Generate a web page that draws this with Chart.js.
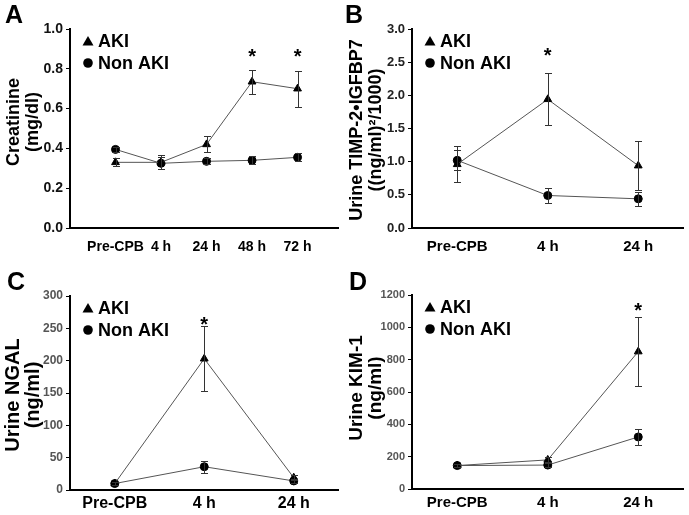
<!DOCTYPE html>
<html>
<head>
<meta charset="utf-8">
<script src="https://cdn.jsdelivr.net/npm/chart.js@4.4.0/dist/chart.umd.min.js"></script>
<style>
  body { margin: 0; background: #fff; }
  canvas { position: absolute; }
</style>
</head>
<body>
<canvas id="panelA" width="344" height="257" style="left:0;top:0"></canvas>
<canvas id="panelB" width="345" height="257" style="left:344px;top:0"></canvas>
<canvas id="panelC" width="344" height="258" style="left:0;top:257px"></canvas>
<canvas id="panelD" width="345" height="258" style="left:344px;top:257px"></canvas>
<script>
// time points
const longCats = ['Pre-CPB', '4 h', '24 h', '48 h', '72 h'];
const shortCats = ['Pre-CPB', '4 h', '24 h'];

// A - creatinine (mg/dl)
const creatAki = [0.33, 0.33, 0.42, 0.735, 0.70];
const creatAkiErr = [0.02, 0.035, 0.04, 0.06, 0.09];
const creatNon = [0.395, 0.325, 0.335, 0.34, 0.355];
const creatNonErr = [0.012, 0.03, 0.015, 0.02, 0.02];
const creatStars = [null, null, null, 0.89, 0.89];

// B - urine TIMP-2*IGFBP7
const timpAki = [0.96, 1.94, 0.94];
const timpAkiErr = [0.27, 0.39, 0.37];
const timpNon = [1.02, 0.49, 0.44];
const timpNonErr = [0.15, 0.11, 0.11];
const timpStars = [null, 2.68, null];

// C - urine NGAL (ng/ml)
const ngalAki = [10, 203, 19];
const ngalAkiErr = [2, 50, 4];
const ngalNon = [10, 36, 14];
const ngalNonErr = [2, 9, 3];
const ngalStars = [null, 265, null];

// D - urine KIM-1 (ng/ml)
const kimAki = [145, 180, 850];
const kimAkiErr = [8, 15, 215];
const kimNon = [145, 148, 322];
const kimNonErr = [8, 10, 48];
const kimStars = [null, null, 1136];

const FONT = 'Arial, "Liberation Sans", sans-serif';

function toPoints(vals) {
    return vals.map((v, i) => ({ x: i, y: v }));
}

const panelDecor = {
    id: 'panelDecor',
    afterDatasetsDraw(chart, args, o) {
        const ctx = chart.ctx;
        const ys = chart.scales.y;
        ctx.save();
        ctx.strokeStyle = '#333';
        ctx.lineWidth = 1;
        chart.data.datasets.forEach((ds, di) => {
            const meta = chart.getDatasetMeta(di);
            ds.errors.forEach((e, i) => {
                const x = Math.round(meta.data[i].x) + 0.5;
                const yTop = Math.round(ys.getPixelForValue(ds.data[i].y + e)) + 0.5;
                const yBot = Math.round(ys.getPixelForValue(ds.data[i].y - e)) + 0.5;
                ctx.beginPath();
                ctx.moveTo(x, yTop); ctx.lineTo(x, yBot);
                ctx.moveTo(x - 3.5, yTop); ctx.lineTo(x + 3.5, yTop);
                ctx.moveTo(x - 3.5, yBot); ctx.lineTo(x + 3.5, yBot);
                ctx.stroke();
            });
        });
        ctx.restore();
    },
    afterDraw(chart, args, o) {
        const ctx = chart.ctx;
        const area = chart.chartArea;
        const xs = chart.scales.x, ys = chart.scales.y;
        ctx.save();
        ctx.fillStyle = '#000';

        // panel letter
        ctx.font = 'bold 25px ' + FONT;
        ctx.textBaseline = 'top';
        ctx.textAlign = 'left';
        ctx.fillText(o.letter, o.letterX, o.letterY);

        // y title, two rotated lines
        ctx.save();
        ctx.font = 'bold ' + o.titleSize + 'px ' + FONT;
        ctx.textAlign = 'center';
        ctx.textBaseline = 'middle';
        o.title.forEach((line, k) => {
            ctx.save();
            ctx.translate(o.titleX[k], o.titleY);
            ctx.rotate(-Math.PI / 2);
            ctx.fillText(line, 0, 0);
            ctx.restore();
        });
        ctx.restore();

        // legend
        const lx = area.left + 18;
        const ly1 = area.top + 12;
        const ly2 = area.top + 34;
        ctx.beginPath();
        ctx.moveTo(lx, ly1 - 5);
        ctx.lineTo(lx + 5.5, ly1 + 4.5);
        ctx.lineTo(lx - 5.5, ly1 + 4.5);
        ctx.closePath();
        ctx.fill();
        ctx.beginPath();
        ctx.arc(lx, ly2, 4.8, 0, Math.PI * 2);
        ctx.fill();
        ctx.font = 'bold 18px ' + FONT;
        ctx.textAlign = 'left';
        ctx.textBaseline = 'middle';
        ctx.fillText('AKI', lx + 10, ly1 + 1);
        ctx.fillText('Non AKI', lx + 10, ly2 + 1);

        // significance stars
        ctx.font = 'bold 20px ' + FONT;
        ctx.textAlign = 'center';
        ctx.textBaseline = 'alphabetic';
        o.stars.forEach((s, i) => {
            if (s === null) return;
            ctx.fillText('*', xs.getPixelForValue(i), ys.getPixelForValue(s) + 12);
        });
        ctx.restore();
    }
};

function makePanel(id, cats, aki, akiErr, non, nonErr, p) {
    new Chart(document.getElementById(id), {
        type: 'line',
        data: {
            datasets: [{
                label: 'AKI',
                data: toPoints(aki),
                errors: akiErr,
                borderColor: '#555',
                borderWidth: 1,
                pointStyle: 'triangle',
                pointRadius: 4.5,
                pointBackgroundColor: '#000',
                pointBorderColor: '#000'
            }, {
                label: 'Non AKI',
                data: toPoints(non),
                errors: nonErr,
                borderColor: '#555',
                borderWidth: 1,
                pointStyle: 'circle',
                pointRadius: 4,
                pointBackgroundColor: '#000',
                pointBorderColor: '#000'
            }]
        },
        options: {
            responsive: false,
            animation: false,
            layout: { padding: { left: 0, top: p.top, right: p.right, bottom: 0 } },
            scales: {
                x: {
                    type: 'linear',
                    min: p.xMin,
                    max: p.xMax,
                    afterBuildTicks: s => { s.ticks = cats.map((c, i) => ({ value: i })); },
                    afterFit: s => { s.height = p.xHeight; },
                    ticks: {
                        callback: v => cats[v],
                        font: { family: FONT, size: p.xFont, weight: 'bold' },
                        color: '#000',
                        padding: p.xPad,
                        maxRotation: 0,
                        autoSkip: false
                    },
                    grid: { drawOnChartArea: false, drawTicks: false },
                    border: { color: '#000', width: 2 }
                },
                y: {
                    min: p.yMin,
                    max: p.yMax,
                    afterFit: s => { s.width = p.yWidth; },
                    ticks: {
                        stepSize: p.step,
                        callback: v => v.toFixed(p.dec),
                        font: { family: FONT, size: p.yFont, weight: 'bold' },
                        color: p.yColor,
                        padding: 3
                    },
                    grid: { drawOnChartArea: false, drawTicks: true, tickLength: 4, color: '#000' },
                    border: { color: '#000', width: 2 }
                }
            },
            plugins: {
                legend: { display: false },
                tooltip: { enabled: false },
                panelDecor: p.decor
            }
        },
        plugins: [panelDecor]
    });
}

makePanel('panelA', longCats, creatAki, creatAkiErr, creatNon, creatNonErr, {
    top: 29, right: 3, xMin: -1, xMax: 4.9, xHeight: 29, xFont: 14, xPad: 11,
    yMin: 0, yMax: 1, step: 0.2, dec: 1, yWidth: 70, yFont: 14, yColor: '#111',
    decor: { letter: 'A', letterX: 5, letterY: 4, title: ['Creatinine', '(mg/dl)'],
             titleSize: 18, titleX: [14, 33], titleY: 122, stars: creatStars }
});

makePanel('panelB', shortCats, timpAki, timpAkiErr, timpNon, timpNonErr, {
    top: 29, right: 3, xMin: -0.5, xMax: 2.5, xHeight: 29, xFont: 15, xPad: 10,
    yMin: 0, yMax: 3, step: 0.5, dec: 1, yWidth: 68, yFont: 13, yColor: '#222',
    decor: { letter: 'B', letterX: 1, letterY: 4, title: ['Urine TIMP-2\u2022IGFBP7', '((ng/ml)\u00B2/1000)'],
             titleSize: 18, titleX: [13, 32], titleY: 130, stars: timpStars }
});

makePanel('panelC', shortCats, ngalAki, ngalAkiErr, ngalNon, ngalNonErr, {
    top: 39, right: 1, xMin: -0.5, xMax: 2.5, xHeight: 25, xFont: 16, xPad: 4,
    yMin: 0, yMax: 300, step: 50, dec: 0, yWidth: 70, yFont: 12, yColor: '#555',
    decor: { letter: 'C', letterX: 7, letterY: 14, title: ['Urine NGAL', '(ng/ml)'],
             titleSize: 20, titleX: [13, 33], titleY: 138, stars: ngalStars }
});

makePanel('panelD', shortCats, kimAki, kimAkiErr, kimNon, kimNonErr, {
    top: 38, right: 4, xMin: -0.5, xMax: 2.5, xHeight: 26, xFont: 15, xPad: 5,
    yMin: 0, yMax: 1200, step: 200, dec: 0, yWidth: 68, yFont: 11, yColor: '#555',
    decor: { letter: 'D', letterX: 5, letterY: 14, title: ['Urine KIM-1', '(ng/ml)'],
             titleSize: 19, titleX: [13, 32], titleY: 131, stars: kimStars }
});
</script>
</body>
</html>
